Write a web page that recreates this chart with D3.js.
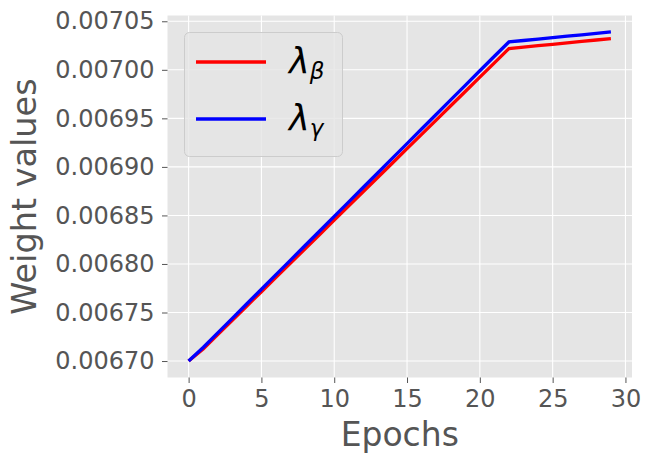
<!DOCTYPE html>
<html><head><meta charset="utf-8">
<script src="https://cdn.jsdelivr.net/npm/d3@7"></script>
<style>body{margin:0;background:#fff}svg{display:block}text{font-family:"DejaVu Sans",sans-serif}</style>
</head><body>
<svg id="c" width="653" height="465"></svg>
<script>
const epochs = d3.range(0, 30);
const lambdaBeta = [0.0067000,0.0067125,0.0067272,0.0067420,0.0067567,0.0067714,0.0067862,0.0068009,0.0068156,0.0068304,0.0068451,0.0068598,0.0068746,0.0068893,0.0069040,0.0069188,0.0069335,0.0069482,0.0069630,0.0069777,0.0069924,0.0070072,0.0070219,0.0070234,0.0070249,0.0070263,0.0070278,0.0070293,0.0070307,0.0070322];
const lambdaGamma = [0.0067000,0.0067140,0.0067290,0.0067440,0.0067590,0.0067740,0.0067890,0.0068040,0.0068190,0.0068340,0.0068490,0.0068640,0.0068790,0.0068940,0.0069090,0.0069240,0.0069390,0.0069540,0.0069690,0.0069840,0.0069990,0.0070140,0.0070287,0.0070302,0.0070317,0.0070331,0.0070346,0.0070361,0.0070375,0.0070390];
const xTicks = [0,5,10,15,20,25,30];
const yTicks = [0.00670,0.00675,0.00680,0.00685,0.00690,0.00695,0.00700,0.00705];
const seriesNames = ["β","γ"];
const colors = ["#ff0000","#0000ff"];

const L=167.5, R=632, T=15.5, B=377.5;
const svg = d3.select("#c");
const xm = (29-0)*0.05;
const x = d3.scaleLinear().domain([0-xm, 29+xm]).range([L, R]);
const all = lambdaBeta.concat(lambdaGamma);
const ymin = d3.min(all), ymax = d3.max(all), ym = (ymax-ymin)*0.05;
const y = d3.scaleLinear().domain([ymin-ym, ymax+ym]).range([B, T]);

svg.append("rect").attr("x",L).attr("y",T).attr("width",R-L).attr("height",B-T).attr("fill","#e5e5e5");

// grid
svg.append("g").selectAll("line").data(xTicks).join("line")
  .attr("x1",d=>x(d)).attr("x2",d=>x(d)).attr("y1",T).attr("y2",B)
  .attr("stroke","#fff").attr("stroke-width",1.1);
svg.append("g").selectAll("line").data(yTicks).join("line")
  .attr("y1",d=>y(d)).attr("y2",d=>y(d)).attr("x1",L).attr("x2",R)
  .attr("stroke","#fff").attr("stroke-width",1.1);

// axes
const xAxis = d3.axisBottom(x).tickValues(xTicks).tickSize(5.5).tickPadding(7).tickFormat(d3.format("d"));
const gx = svg.append("g").attr("transform",`translate(0,${B})`).call(xAxis);
const yAxis = d3.axisLeft(y).tickValues(yTicks).tickSize(5.5).tickPadding(7.5).tickFormat(d3.format(".5f"));
const gy = svg.append("g").attr("transform",`translate(${L},0)`).call(yAxis);
[gx,gy].forEach(g=>{
  g.select(".domain").remove();
  g.selectAll(".tick line").attr("stroke","#555555").attr("stroke-width",1);
  g.selectAll(".tick text").attr("fill","#555555").style("font-size","24px").style("font-family","DejaVu Sans");
});

// axis labels
svg.append("text").attr("x",(L+R)/2).attr("y",446).attr("text-anchor","middle")
  .attr("fill","#555555").style("font-size","33px").text("Epochs");
svg.append("text").attr("transform",`translate(36,${(T+B)/2}) rotate(-90)`).attr("text-anchor","middle")
  .attr("fill","#555555").style("font-size","33.5px").text("Weight values");

// lines
const line = d3.line().x((d,i)=>x(epochs[i])).y(d=>y(d));
[lambdaBeta, lambdaGamma].forEach((s,k)=>{
  svg.append("path").datum(s).attr("d",line).attr("fill","none")
    .attr("stroke",colors[k]).attr("stroke-width",3.3).attr("stroke-linejoin","miter").attr("stroke-linecap","butt");
});

// legend
const lg = svg.append("g");
lg.append("rect").attr("x",184.5).attr("y",32.5).attr("width",158).attr("height",124).attr("rx",5)
  .attr("fill","#e5e5e5").attr("fill-opacity",0.8).attr("stroke","#cccccc").attr("stroke-width",1);
seriesNames.forEach((n,k)=>{
  const cy = 62 + k*57;
  lg.append("line").attr("x1",196).attr("x2",266).attr("y1",cy).attr("y2",cy)
    .attr("stroke",colors[k]).attr("stroke-width",3.3);
  const t = lg.append("text").attr("x",289).attr("y",cy+10.5).attr("fill","#000")
    .style("font-size","35px").style("font-style","italic");
  t.append("tspan").text("λ");
  t.append("tspan").attr("dy",6).style("font-size","23px").text(n);
});
</script>
</body></html>
